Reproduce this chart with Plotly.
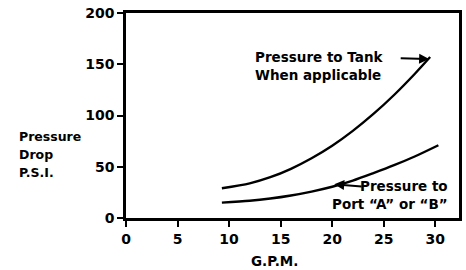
import plotly.graph_objects as go

# Data
tank_gpm = [9.3, 12, 14, 16, 18, 20, 22, 24, 26, 28, 29.5]
tank_psi = [29, 33.8, 39.8, 48, 58.3, 70.5, 85, 101.5, 120, 140.5, 157]
port_gpm = [9.3, 12, 14, 16, 18, 20, 22, 24, 26, 28, 30.3]
port_psi = [15, 16.8, 19, 22, 25.8, 30.5, 36.5, 43.8, 51.5, 60, 71]

x_ticks = [0, 5, 10, 15, 20, 25, 30]
y_ticks = [0, 50, 100, 150, 200]

FONT = "DejaVu Sans"
line_style = dict(color="black", width=2.4)

fig = go.Figure()
fig.add_trace(go.Scatter(x=tank_gpm, y=tank_psi, mode="lines",
                         line=dict(shape="spline", smoothing=0.8, **line_style), hoverinfo="skip"))
fig.add_trace(go.Scatter(x=port_gpm, y=port_psi, mode="lines",
                         line=dict(shape="spline", smoothing=0.8, **line_style), hoverinfo="skip"))

axis_common = dict(showline=True, linewidth=2.5, linecolor="black", mirror=True,
                   ticks="outside", ticklen=6, tickwidth=2, tickcolor="black",
                   showgrid=False, zeroline=False,
                   tickfont=dict(family=FONT, size=14, color="black", weight="bold"))

fig.update_xaxes(range=[0, 32.3], tickvals=x_ticks, ticktext=[str(v) for v in x_ticks], **axis_common)
fig.update_yaxes(range=[0, 200], tickvals=y_ticks, ticktext=[str(v) for v in y_ticks], **axis_common)

txt = dict(family=FONT, size=13.5, color="black", weight="bold")
W, H = 466, 270
L, R, T, B = 126, 4, 13, 52
pw, ph = W - L - R, H - T - B

anns = []
# Y axis label lines (pixel positions converted to paper coords)
for text, px, py in [("Pressure", 16, 136), ("Drop", 16, 154), ("P.S.I.", 16, 172)]:
    anns.append(dict(text=text, x=(px - L) / pw, y=1 - (py - T) / ph,
                     xref="paper", yref="paper", xanchor="left", yanchor="middle",
                     showarrow=False, font=dict(family=FONT, size=12.5, color="black", weight="bold")))
# X axis title
anns.append(dict(text="G.P.M.", x=14.4, y=1 - (261 - T) / ph, xref="x", yref="paper",
                 xanchor="center", yanchor="middle", showarrow=False, font=txt))
# Tank label
anns.append(dict(text="Pressure to Tank", x=12.3, y=157, xref="x", yref="y",
                 xanchor="left", yanchor="middle", showarrow=False, font=txt))
anns.append(dict(text="When applicable", x=12.3, y=140, xref="x", yref="y",
                 xanchor="left", yanchor="middle", showarrow=False, font=txt))
anns.append(dict(x=29.4, y=155, ax=26.5, ay=156, xref="x", yref="y", axref="x", ayref="y",
                 text="", showarrow=True, arrowhead=2, arrowsize=1, arrowwidth=2, arrowcolor="black"))
# Port label
anns.append(dict(text="Pressure to", x=31.4, y=31, xref="x", yref="y",
                 xanchor="right", yanchor="middle", showarrow=False, font=txt))
anns.append(dict(text="Port \u201cA\u201d or \u201cB\u201d", x=31.4, y=13.5, xref="x", yref="y",
                 xanchor="right", yanchor="middle", showarrow=False, font=txt))
anns.append(dict(x=20.2, y=33, ax=23.0, ay=30.5, xref="x", yref="y", axref="x", ayref="y",
                 text="", showarrow=True, arrowhead=2, arrowsize=1, arrowwidth=2, arrowcolor="black"))

fig.update_layout(width=W, height=H, margin=dict(l=L, r=R, t=T, b=B),
                  paper_bgcolor="white", plot_bgcolor="white", showlegend=False,
                  annotations=anns)

fig.write_html("out.html", config={"displayModeBar": False},
               post_script="document.body.style.margin='0';")
